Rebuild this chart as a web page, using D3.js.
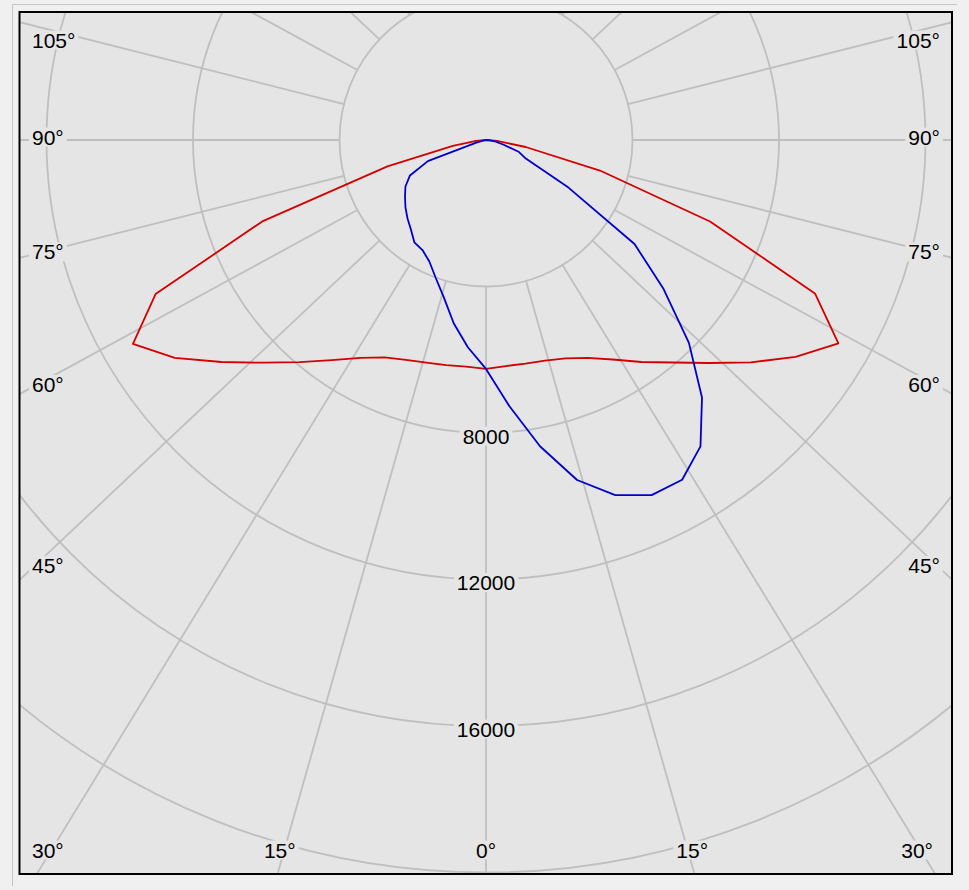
<!DOCTYPE html>
<html><head><meta charset="utf-8">
<script src="https://cdn.jsdelivr.net/npm/d3@7"></script>
<style>html,body{margin:0;padding:0;background:#f0f0f0;} svg{display:block;}</style>
</head><body>
<svg id="c" width="969" height="890"></svg>
<script>
// ---- data ----
const angles = [-90,-85,-80,-75,-70,-65,-60,-55,-50,-45,-40,-35,-30,-25,-20,-15,-10,-5,0,5,10,15,20,25,30,35,40,45,50,55,60,65,70,75,80,85,90];
const redValues = [0,270,920,2785,6500,9955,11130,10375,9430,8600,7915,7335,6870,6550,6390,6290,6240,6210,6250,6195,6200,6235,6345,6565,6920,7400,7930,8610,9445,10320,11110,9910,6510,3220,1100,300,0];
const blueValues = [0,27,82,273,1690,2290,2540,2700,2870,3030,3190,3410,3470,3660,4010,4450,5080,5680,6250,7290,8490,9610,10320,10700,10710,10210,9175,7835,6330,4950,2600,1200,960,500,275,110,0];
const ringValues = [4000,8000,12000,16000,20000];
const ringLabelValues = [8000,12000,16000];
const spokeAngles = [0,15,30,45,60,75,90,105,120,135,150,165,180,195,210,225,240,255,270,285,300,315,330,345];
const angleLabelValues = [-105,-90,-75,-60,-45,-30,-15,0,15,30,45,60,75,90,105];

// ---- layout ----
const W = 969, H = 890;
const frame = {x0:19.5, y0:12, x1:952, y1:874};
const cx = 486, cy = 140;
const k = 1.06; // horizontal stretch of the angular grid
const r = d3.scaleLinear().domain([0,20000]).range([0,732.5]);
const font = "'Liberation Sans', Arial, sans-serif";
const bg = "#e5e5e5", gridColor = "#bfbfbf";

const svg = d3.select("#c");
svg.append("rect").attr("width",W).attr("height",H).attr("fill","#f0f0f0");
svg.append("path").attr("d",`M12.5,886 V4.5 H957`).attr("fill","none").attr("stroke","#c6c6c6").attr("stroke-width",1);
svg.append("rect").attr("x",frame.x0).attr("y",frame.y0).attr("width",frame.x1-frame.x0).attr("height",frame.y1-frame.y0).attr("fill",bg);

svg.append("defs").append("clipPath").attr("id","clip").append("rect")
  .attr("x",frame.x0).attr("y",frame.y0).attr("width",frame.x1-frame.x0).attr("height",frame.y1-frame.y0);
const g = svg.append("g").attr("clip-path","url(#clip)");
const c = g.append("g").attr("transform",`translate(${cx},${cy})`);

// rings
c.selectAll("circle.ring").data(ringValues).join("circle").attr("class","ring")
  .attr("r",d=>r(d)).attr("fill","none").attr("stroke",gridColor).attr("stroke-width",1.8);

// spokes
function dir(a){const t=a*Math.PI/180; const dx=k*Math.sin(t), dy=Math.cos(t); const n=Math.hypot(dx,dy); return [dx/n,dy/n];}
c.selectAll("line.spoke").data(spokeAngles).join("line").attr("class","spoke")
  .attr("x1",d=>dir(d)[0]*r(ringValues[0])).attr("y1",d=>dir(d)[1]*r(ringValues[0]))
  .attr("x2",d=>dir(d)[0]*1500).attr("y2",d=>dir(d)[1]*1500)
  .attr("stroke",gridColor).attr("stroke-width",1.8);

// curves
const radial = d3.lineRadial().angle(d=>Math.PI - d.a*Math.PI/180).radius(d=>r(d.v));
const redData = angles.map((a,i)=>({a, v:redValues[i]}));
const blueData = angles.map((a,i)=>({a, v:blueValues[i]}));

function labelWithBg(parent, x, y, text, anchor, dyPx){
  const gg = parent.append("g");
  const rect = gg.append("rect").attr("fill",bg);
  const t = gg.append("text").attr("x",x).attr("y",y+(dyPx||0)).attr("dy","0.36em")
    .attr("text-anchor",anchor).attr("font-family",font).attr("font-size",21).attr("fill","#000").text(text);
  const b = t.node().getBBox();
  rect.attr("x",b.x-3).attr("y",b.y+2).attr("width",b.width+6).attr("height",b.height-4);
  return {g:gg, t, rect, b};
}
ringLabelValues.forEach(v=>{ labelWithBg(g, cx, cy + r(v), String(v), "middle", 3); });

// angle labels
const L = {left: frame.x0+12.5, right: frame.x1-12, bottom: frame.y1-8, top: frame.y0+28, bottomText: frame.y1-24};
angleLabelValues.forEach(a=>{
  const t=a*Math.PI/180; const dx=k*Math.sin(t), dy=Math.cos(t);
  let ts = Infinity, tb = Infinity;
  if (Math.abs(dx)>1e-9) ts = ((dx>0?L.right:L.left)-cx)/dx;
  if (dy>1e-9) tb = (L.bottom-cy)/dy;
  const txt = Math.abs(a)+"°";
  if (ts <= tb) {
    const y = Math.max(L.top, Math.min(L.bottomText, cy + ts*dy - 3));
    labelWithBg(g, dx>0?L.right:L.left, y, txt, dx>0?"end":"start");
  } else {
    let x = cx + tb*dx;
    const o = labelWithBg(g, x, L.bottomText, txt, "middle");
    const hw = o.b.width/2;
    const nx = Math.max(L.left+hw, Math.min(L.right-7-hw, x));
    if (nx !== x){ o.t.attr("x",nx); const b=o.t.node().getBBox(); o.rect.attr("x",b.x-3); }
  }
});

c.append("path").datum(redData).attr("d",radial).attr("fill","none").attr("stroke","#d40000").attr("stroke-width",1.8).attr("stroke-linejoin","round");
c.append("path").datum(blueData).attr("d",radial).attr("fill","none").attr("stroke","#0000cc").attr("stroke-width",1.8).attr("stroke-linejoin","round");

// frame
svg.append("rect").attr("x",frame.x0).attr("y",frame.y0).attr("width",frame.x1-frame.x0).attr("height",frame.y1-frame.y0)
  .attr("fill","none").attr("stroke","#000").attr("stroke-width",2);
</script>
</body></html>
